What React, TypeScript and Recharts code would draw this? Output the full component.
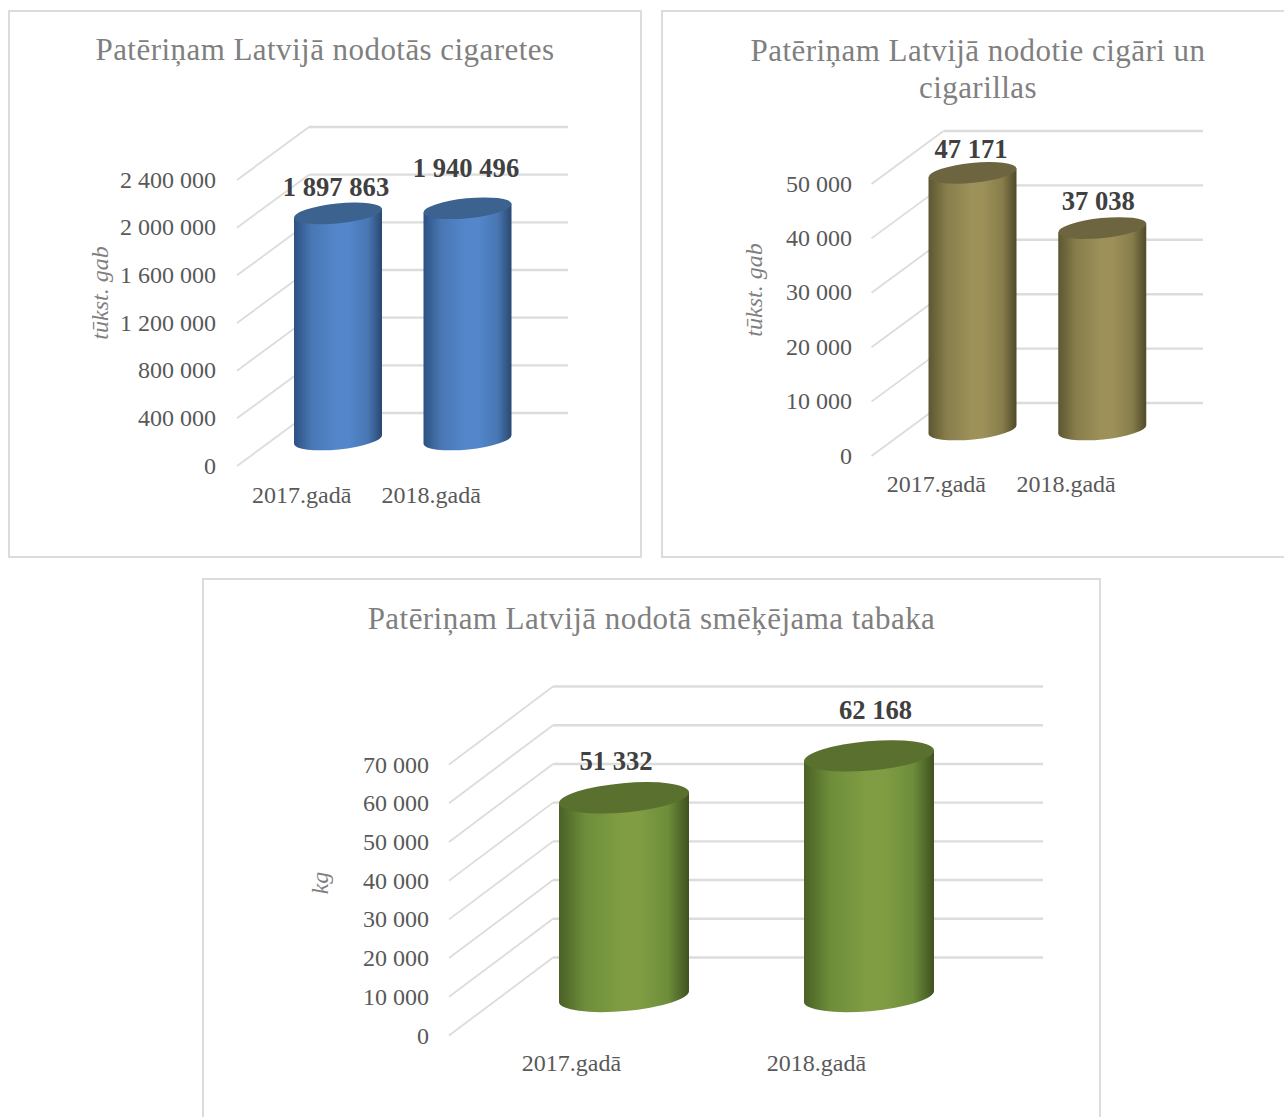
import React from 'react';
import { Bar, BarChart, CartesianGrid, XAxis, YAxis } from 'recharts';

const years = ['2017.gadā', '2018.gadā'];

const cigaretteValues = [1897863, 1940496];
const cigaretteTicks = [0, 400000, 800000, 1200000, 1600000, 2000000, 2400000];

const cigarValues = [47171, 37038];
const cigarTicks = [0, 10000, 20000, 30000, 40000, 50000];

const tobaccoValues = [51332, 62168];
const tobaccoTicks = [0, 10000, 20000, 30000, 40000, 50000, 60000, 70000];

const FONT = '"Liberation Serif", "Times New Roman", serif';
const GRID = '#dcdcdc';

const formatNumber = (n: number) =>
  String(n).replace(/\B(?=(\d{3})+(?!\d))/g, ' ');

const Cylinder = ({ x, y, width, height, id, dx, dy, tilt, topColor }: any) => {
  const rad = (tilt * Math.PI) / 180;
  const halfRise = (width / 2) * Math.tan(rad);
  const left = x + dx;
  const right = left + width;
  const cx = left + width / 2;
  const top = y + dy;
  const bottom = y + height + dy;
  const rx = width / 2 / Math.cos(rad);
  const ry = rx * 0.225;
  const body =
    `M${left},${top - halfRise} L${left},${bottom - halfRise} ` +
    `A${rx},${ry} ${tilt} 0 0 ${right},${bottom + halfRise} ` +
    `L${right},${top + halfRise} Z`;
  return (
    <g>
      <path d={body} fill={`url(#${id})`} />
      <ellipse
        cx={cx}
        cy={top}
        rx={rx}
        ry={ry}
        fill={topColor}
        transform={`rotate(${tilt} ${cx} ${top})`}
      />
    </g>
  );
};

const ValueLabel = ({ x, y, width, value, index, dx, dy, lifts }: any) => (
  <text
    x={x + width / 2 + dx + lifts[index][0]}
    y={y + dy - lifts[index][1]}
    textAnchor="middle"
    dominantBaseline="central"
    fontFamily={FONT}
    fontWeight="bold"
    fontSize={26.6}
    fill="#404040"
  >
    {formatNumber(value)}
  </text>
);

const WallLine = ({ x1, y1, x2, dx, dy }: any) => (
  <g fill="none" stroke={GRID}>
    <line x1={x1} y1={y1} x2={x1 + dx} y2={y1 + dy} strokeWidth={1.8} />
    <line x1={x1 + dx} y1={y1 + dy} x2={x2 + dx} y2={y1 + dy} strokeWidth={2.4} />
  </g>
);

const Panel = ({ box, title, titleTop, unit, unitPos, values, ticks, plot, depth, barWidth, tilt, colors, lifts, id, yMargin, yShift, xMargin }: any) => {
  const data = years.map((name, i) => ({ name, value: values[i] }));
  const dx = depth[0];
  const dy = depth[1];
  const xAxisHeight = 40;
  return (
    <div
      style={{
        position: 'absolute',
        left: box.left,
        top: box.top,
        width: box.width,
        height: box.height,
        boxSizing: 'border-box',
        border: `2px solid ${GRID}`,
        background: '#fff',
      }}
    >
      <div style={{ position: 'absolute', left: -2, top: -2 }}>
        <BarChart
          width={box.width}
          height={box.height}
          data={data}
          margin={{
            top: plot.top,
            right: box.width - plot.right,
            left: 0,
            bottom: box.height - plot.bottom - xAxisHeight,
          }}
        >
          <defs>
            <linearGradient id={id} x1="0" y1="0" x2="1" y2="0">
              <stop offset="0%" stopColor={colors[0]} />
              <stop offset="20%" stopColor={colors[1]} />
              <stop offset="48%" stopColor={colors[2]} />
              <stop offset="62%" stopColor={colors[2]} />
              <stop offset="84%" stopColor={colors[1]} />
              <stop offset="100%" stopColor={colors[3]} />
            </linearGradient>
          </defs>
          <CartesianGrid
            vertical={false}
            horizontal={(p: any) => (
              <WallLine key={p.index} x1={p.x1} y1={p.y1} x2={p.x2} dx={dx * 2} dy={dy * 2} />
            )}
          />
          <XAxis
            dataKey="name"
            height={xAxisHeight}
            axisLine={false}
            tickLine={false}
            tickSize={0}
            tickMargin={xMargin}
            interval={0}
            tick={{ fontFamily: FONT, fontSize: 24, fill: '#595959' }}
          />
          <YAxis
            width={plot.left}
            domain={[ticks[0], ticks[ticks.length - 1]]}
            ticks={ticks}
            interval={0}
            axisLine={false}
            tickLine={false}
            tickSize={0}
            tickMargin={yMargin}
            tickFormatter={formatNumber}
            tick={{ fontFamily: FONT, fontSize: 24, fill: '#595959', dy: yShift }}
          />
          <Bar
            dataKey="value"
            barSize={barWidth}
            isAnimationActive={false}
            shape={(p: any) => (
              <Cylinder {...p} id={id} dx={dx} dy={dy} tilt={tilt} topColor={colors[4]} />
            )}
            label={(p: any) => <ValueLabel {...p} dx={dx} dy={dy} lifts={lifts} />}
          />
        </BarChart>
      </div>
      <div
        style={{
          position: 'absolute',
          left: -2,
          top: titleTop,
          width: box.titleWidth || box.width,
          textAlign: 'center',
          fontFamily: FONT,
          fontSize: 31,
          lineHeight: '37px',
          letterSpacing: 0.45,
          color: '#7f7f7f',
          whiteSpace: 'pre-line',
        }}
      >
        {title}
      </div>
      <div
        style={{
          position: 'absolute',
          left: unitPos[0],
          top: unitPos[1],
          transform: 'translate(-50%, -50%) rotate(-90deg)',
          fontFamily: FONT,
          fontStyle: 'italic',
          fontSize: 24,
          color: '#7f7f7f',
          whiteSpace: 'nowrap',
        }}
      >
        {unit}
      </div>
    </div>
  );
};

export default function App() {
  return (
    <div
      style={{
        position: 'fixed',
        left: 0,
        top: 0,
        width: 1284,
        height: 1117,
        overflow: 'hidden',
        background: '#fff',
      }}
    >
      <Panel
        id="blueBar"
        box={{ left: 8, top: 10, width: 634, height: 548 }}
        title="Patēriņam Latvijā nodotās cigaretes"
        titleTop={19}
        unit="tūkst. gab"
        unitPos={[90, 281]}
        values={cigaretteValues}
        ticks={cigaretteTicks}
        plot={{ left: 229, right: 488, top: 170, bottom: 456 }}
        depth={[36, -26.5]}
        barWidth={88}
        tilt={-5.8}
        colors={['#2d5182', '#4877b3', '#5386cb', '#2a4870', '#3c628f']}
        lifts={[[-2, 26.5], [-1.5, 40.5]]}
        yMargin={21}
        yShift={-1}
        xMargin={20}
      />
      <Panel
        id="oliveBar"
        box={{ left: 661, top: 10, width: 640, height: 548, titleWidth: 634 }}
        title={'Patēriņam Latvijā nodotie cigāri un\ncigarillas'}
        titleTop={20}
        unit="tūkst. gab"
        unitPos={[91, 278]}
        values={cigarValues}
        ticks={cigarTicks}
        plot={{ left: 210.5, right: 470, top: 174, bottom: 446 }}
        depth={[36, -26.5]}
        barWidth={88}
        tilt={-5.8}
        colors={['#5d5631', '#867d4b', '#9d9159', '#4f4a2a', '#6c653f']}
        lifts={[[-1.5, 24], [-4, 27.5]]}
        yMargin={19.5}
        yShift={-1}
        xMargin={19}
      />
      <Panel
        id="greenBar"
        box={{ left: 202, top: 578, width: 899, height: 560 }}
        title="Patēriņam Latvijā nodotā smēķējama tabaka"
        titleTop={20}
        unit="kg"
        unitPos={[116, 303]}
        values={tobaccoValues}
        ticks={tobaccoTicks}
        plot={{ left: 247, right: 737, top: 186.5, bottom: 457.5 }}
        depth={[52, -39]}
        barWidth={130}
        tilt={-5}
        colors={['#4a6125', '#6d8d3a', '#809d43', '#3f5120', '#5a702f']}
        lifts={[[-8, 37], [6.5, 45.5]]}
        yMargin={20}
        yShift={-0.5}
        xMargin={18}
      />
    </div>
  );
}
